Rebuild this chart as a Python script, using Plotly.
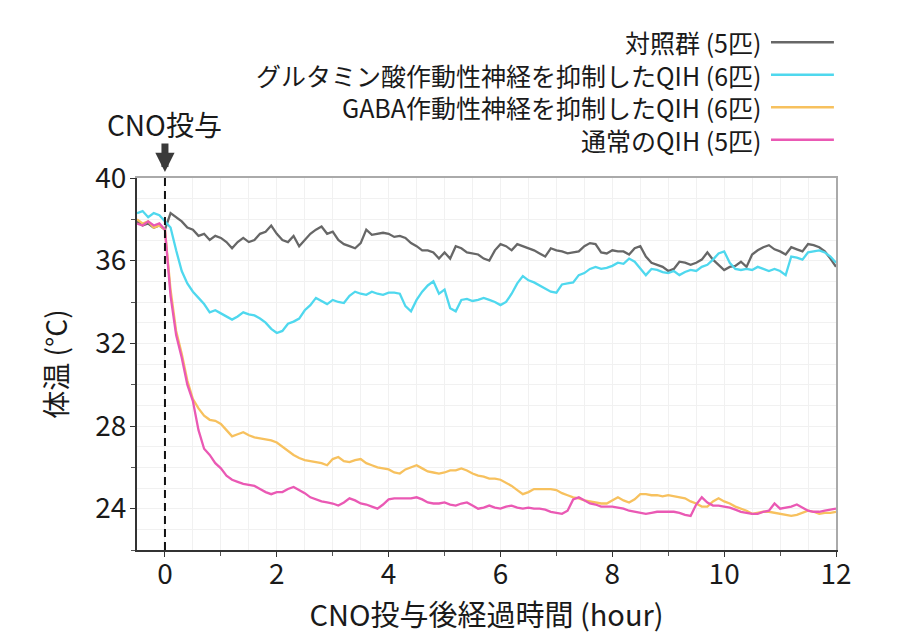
import plotly.graph_objects as go

# time grid (hours after CNO), 0.1 h steps from -0.5 to 12.0
hours = [round(-0.5 + 0.1 * i, 1) for i in range(126)]

series_names = [
    "対照群 (5匹)",
    "グルタミン酸作動性神経を抑制したQIH (6匹)",
    "GABA作動性神経を抑制したQIH (6匹)",
    "通常のQIH (5匹)",
]
series_colors = ["#676767", "#4fd8ee", "#f7c15e", "#ea59b4"]

control = [
    37.9, 37.7, 37.8, 37.6, 37.7, 37.5, 38.3, 38.1, 37.9, 37.6,
    37.5, 37.2, 37.3, 37.0, 37.2, 37.1, 36.9, 36.6, 36.9, 37.1,
    36.9, 37.0, 37.3, 37.4, 37.7, 37.3, 37.0, 36.9, 37.2, 36.7,
    37.0, 37.3, 37.5, 37.65, 37.3, 37.4, 37.0, 36.8, 36.7, 36.6,
    36.85, 37.5, 37.25, 37.3, 37.35, 37.3, 37.15, 37.2, 37.1, 36.85,
    36.7, 36.5, 36.5, 36.4, 36.1, 36.4, 36.1, 36.7, 36.6, 36.4,
    36.35, 36.3, 36.1, 36.0, 36.5, 36.8, 36.7, 36.5, 36.8, 36.7,
    36.6, 36.5, 36.35, 36.2, 36.6, 36.5, 36.45, 36.35, 36.4, 36.45,
    36.7, 36.85, 36.8, 36.4, 36.35, 36.5, 36.45, 36.45, 36.3, 36.6,
    36.7, 36.2, 35.9, 35.8, 35.7, 35.5, 35.6, 35.95, 35.9, 35.8,
    35.9, 36.05, 36.4, 36.05, 35.8, 35.55, 35.7, 35.75, 35.95, 35.7,
    36.3, 36.5, 36.65, 36.75, 36.55, 36.45, 36.3, 36.65, 36.55, 36.45,
    36.8, 36.75, 36.65, 36.45, 36.1, 35.7,
]

glutamate_qih = [
    38.3, 38.4, 38.1, 38.3, 38.2, 37.9, 37.6, 36.5, 35.5, 34.9,
    34.5, 34.2, 33.9, 33.5, 33.6, 33.45, 33.3, 33.15, 33.3, 33.5,
    33.4, 33.35, 33.2, 33.0, 32.7, 32.5, 32.6, 32.95, 33.05, 33.2,
    33.6, 33.85, 34.2, 34.05, 33.9, 34.1, 34.0, 33.95, 34.3, 34.5,
    34.4, 34.35, 34.5, 34.4, 34.35, 34.45, 34.45, 34.4, 33.8, 33.55,
    34.1, 34.5, 34.8, 35.0, 34.4, 34.6, 33.7, 33.55, 34.1, 34.15,
    34.05, 34.1, 34.2, 34.1, 34.0, 33.85, 34.0, 34.4, 34.9, 35.25,
    35.05, 34.95, 34.8, 34.65, 34.5, 34.45, 34.85, 34.9, 34.95, 35.3,
    35.4, 35.6, 35.7, 35.6, 35.65, 35.75, 35.9, 35.85, 36.1, 35.95,
    35.6, 35.3, 35.6, 35.55, 35.45, 35.4, 35.5, 35.3, 35.45, 35.55,
    35.5, 35.7, 35.8, 36.05, 36.35, 36.45, 35.9, 35.6, 35.55, 35.6,
    35.55, 35.7, 35.6, 35.5, 35.6, 35.5, 35.3, 36.2, 36.15, 36.05,
    36.4, 36.45, 36.5, 36.4, 36.2, 35.9,
]

gaba_qih = [
    38.0, 37.8, 37.9, 37.6, 37.7, 37.5, 34.6, 32.6, 31.5, 30.2,
    29.3, 28.85, 28.5, 28.3, 28.25, 28.1, 27.8, 27.5, 27.6, 27.7,
    27.55, 27.45, 27.4, 27.35, 27.3, 27.2, 27.0, 26.8, 26.6, 26.45,
    26.35, 26.3, 26.25, 26.2, 26.1, 26.4, 26.5, 26.3, 26.25, 26.35,
    26.4, 26.2, 26.1, 26.0, 25.95, 25.9, 25.75, 25.7, 25.9, 26.0,
    26.1, 25.95, 25.8, 25.75, 25.7, 25.75, 25.85, 25.85, 25.95, 25.85,
    25.7, 25.6, 25.55, 25.45, 25.45, 25.4, 25.25, 25.1, 24.9, 24.7,
    24.8, 24.95, 24.95, 24.95, 24.95, 24.9, 24.75, 24.65, 24.55, 24.5,
    24.4, 24.35, 24.3, 24.25, 24.25, 24.4, 24.55, 24.4, 24.3, 24.45,
    24.7, 24.7, 24.65, 24.65, 24.6, 24.65, 24.6, 24.55, 24.5, 24.35,
    24.25, 24.1, 24.1, 24.35, 24.5, 24.35, 24.25, 24.1, 24.0, 23.9,
    23.75, 23.8, 23.85, 23.85, 23.8, 23.75, 23.7, 23.65, 23.7, 23.8,
    23.9, 23.85, 23.75, 23.8, 23.8, 23.85,
]

normal_qih = [
    37.8, 37.7, 37.9, 37.7, 37.8, 37.5, 34.3, 32.4, 31.3, 30.0,
    29.2, 27.8, 26.9, 26.6, 26.2, 25.95, 25.6, 25.4, 25.3, 25.2,
    25.15, 25.1, 24.95, 24.8, 24.7, 24.8, 24.8, 24.95, 25.05, 24.9,
    24.75, 24.55, 24.45, 24.35, 24.3, 24.25, 24.15, 24.3, 24.5, 24.4,
    24.25, 24.2, 24.1, 24.0, 24.2, 24.45, 24.5, 24.5, 24.5, 24.5,
    24.55, 24.45, 24.3, 24.25, 24.25, 24.3, 24.2, 24.15, 24.25, 24.3,
    24.15, 24.0, 24.05, 24.15, 24.05, 24.0, 24.1, 24.15, 24.05, 24.0,
    24.05, 24.0, 24.0, 23.95, 23.85, 23.8, 23.75, 23.9, 24.45, 24.55,
    24.4, 24.25, 24.2, 24.1, 24.1, 24.1, 24.05, 24.0, 23.9, 23.85,
    23.8, 23.75, 23.8, 23.85, 23.85, 23.85, 23.85, 23.8, 23.7, 23.65,
    24.2, 24.55, 24.3, 24.15, 24.15, 24.1, 24.05, 23.95, 23.85, 23.8,
    23.75, 23.75, 23.85, 23.9, 24.25, 24.0, 24.05, 24.1, 24.2, 24.05,
    23.9, 23.85, 23.85, 23.9, 23.95, 24.0,
]

x_ticks = [0, 2, 4, 6, 8, 10, 12]
y_ticks = [24, 28, 32, 36, 40]
x_range = [-0.5, 12]
y_range = [22, 40]

FONT = "Noto Sans CJK JP"
all_series = [control, glutamate_qih, gaba_qih, normal_qih]

fig = go.Figure()
for name, color, vals in zip(series_names, series_colors, all_series):
    fig.add_trace(go.Scatter(x=hours, y=vals, mode="lines", name=name,
                             line=dict(color=color, width=2.3), showlegend=False))

# invisible trace to instantiate overlay axes (fine grid + top/right frame)
fig.add_trace(go.Scatter(x=[], y=[], xaxis="x2", yaxis="y2", showlegend=False))

fig.update_layout(
    width=900, height=640,
    margin=dict(l=129, r=72, t=170, b=98),
    paper_bgcolor="white", plot_bgcolor="white",
    font=dict(family=FONT, color="#1a1a1a", size=26),
    xaxis=dict(range=x_range, tickvals=x_ticks, ticks="outside", ticklen=5,
               tickcolor="#333", showline=True, linecolor="#333", linewidth=2,
               showgrid=True, gridcolor="#ececec", gridwidth=1, zeroline=False,
               minor=dict(dtick=1, ticks="outside", ticklen=4, tickcolor="#555",
                          showgrid=True, gridcolor="#ececec"),
               tickfont=dict(size=28), ticklabelstandoff=-7,
               title=dict(text="CNO投与後経過時間 (hour)", font=dict(size=29), standoff=1)),
    yaxis=dict(range=y_range, tickvals=y_ticks, ticks="outside", ticklen=5,
               tickcolor="#333", showline=True, linecolor="#333", linewidth=2,
               showgrid=True, gridcolor="#ececec", zeroline=False,
               minor=dict(dtick=2, ticks="outside", ticklen=4, tickcolor="#555",
                          showgrid=True, gridcolor="#ececec"),
               tickfont=dict(size=28), ticklabelstandoff=-2,
               title=dict(text="体温 (°C)", font=dict(size=28), standoff=20)),
    xaxis2=dict(range=x_range, overlaying="x", side="top", anchor="y",
                showline=True, linecolor="#aaaaaa", linewidth=1.5,
                showgrid=True, gridcolor="#f1f1f1", dtick=0.5, tick0=0,
                showticklabels=False, ticks="", zeroline=False),
    yaxis2=dict(range=y_range, overlaying="y", side="right", anchor="x",
                showline=True, linecolor="#aaaaaa", linewidth=1.5,
                showgrid=True, gridcolor="#f1f1f1", dtick=1, tick0=0,
                showticklabels=False, ticks="", zeroline=False),
)

# CNO injection marker
fig.add_vline(x=0, line=dict(color="#111", width=2, dash="8px,5px"), layer="above")
fig.add_annotation(x=0, y=y_range[1], xref="x", yref="y", text="", showarrow=True,
                   ax=0, ay=-30, yshift=6, arrowhead=2, arrowsize=0.55, arrowwidth=7,
                   arrowcolor="#3a3a3a", standoff=0)
fig.add_annotation(x=0, y=y_range[1], xref="x", yref="y", text="CNO投与",
                   showarrow=False, yshift=54, font=dict(size=28), xanchor="center")

# legend drawn at right: one right-aligned text block, line samples to its right
fig.add_annotation(x=0.8956, y=1.2339, xref="paper", yref="paper",
                   text="<br>".join(series_names), align="right",
                   showarrow=False, xanchor="right", yanchor="middle",
                   font=dict(size=25))
legend_rows = [1.3649, 1.2776, 1.1902, 1.1028]
for color, ry in zip(series_colors, legend_rows):
    fig.add_shape(type="line", xref="paper", yref="paper", x0=0.907, x1=0.997,
                  y0=ry, y1=ry, line=dict(color=color, width=2.5))

fig.write_html("out.html")
